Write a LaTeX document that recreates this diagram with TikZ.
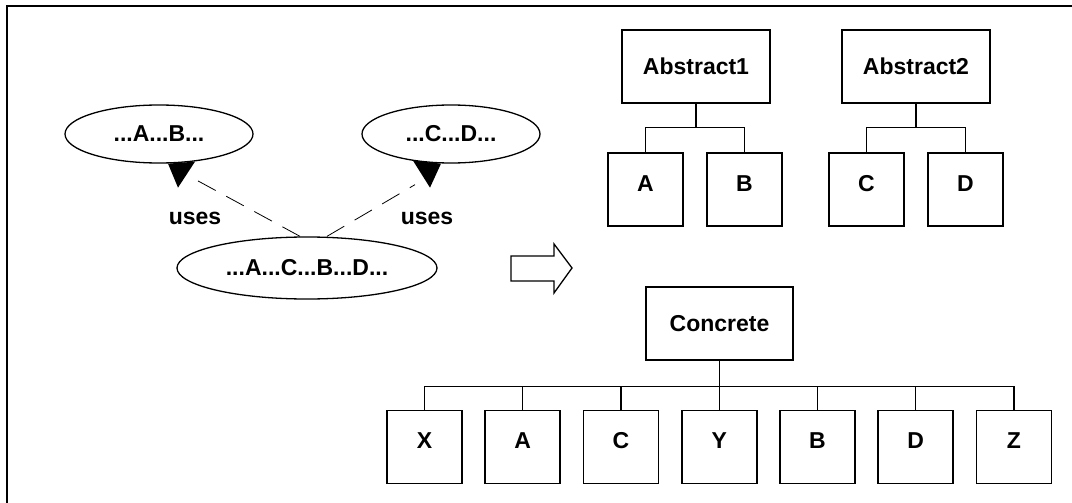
\documentclass[tikz,border=0pt]{standalone}
\usepackage{fontspec}
\setmainfont{Liberation Sans}
\usetikzlibrary{shapes.geometric,calc}

\begin{document}
\begin{tikzpicture}[x=1pt,y=-1pt,
  every node/.style={font=\bfseries\fontsize{23}{27}\selectfont},
  blob/.style={ellipse,draw,line width=1.3pt,inner sep=0pt},
  cls/.style={draw,line width=1.6pt,minimum width=148pt,minimum height=73pt},
  leaf/.style={draw,line width=1.6pt,minimum width=75pt,minimum height=73pt,text depth=12pt},
  wire/.style={line width=1.3pt},
  uses/.style={line width=0.8pt,dash pattern=on 20pt off 12pt}]
\clip (0,0) rectangle (1072,503);
\draw[line width=2pt] (7,6) rectangle (1090,520);
\node[blob,minimum width=188pt,minimum height=58pt] (ab) at (159,134) {...A...B...};
\node[blob,minimum width=178pt,minimum height=58pt] (cd) at (451,134) {...C...D...};
\node[blob,minimum width=260pt,minimum height=62pt] (mix) at (307,268) {...A...C...B...D...};
\fill ($(ab.south)+(9,0)$) -- ($(ab.south)+(36,-2)$) -- ($(ab.south)+(19,24)$) -- cycle;
\fill ($(cd.south)+(-38,-3)$) -- ($(cd.south)+(-10,0)$) -- ($(cd.south)+(-21,24)$) -- cycle;
\coordinate (abtip) at ($(ab.south)+(33,14)$);
\coordinate (cdtip) at ($(cd.south)+(-36,21)$);
\draw[uses] ($(mix.north)+(-7,0)$) -- (abtip);
\draw[uses] ($(mix.north)+(20,0)$) -- (cdtip);
\node (u1) at ($(ab.south)+(36,55)$) {uses};
\node (u2) at ($(cd.south)+(-24,55)$) {uses};
\draw[line width=1.3pt] (511,256) -- (554,256) -- (554,244) -- (572,268) -- (554,293) -- (554,281) -- (511,281) -- cycle;
\node[cls] (abs1) at (696,66.5) {Abstract1};
\node[cls] (abs2) at ($(abs1)+(220,0)$) {Abstract2};
\node[leaf] (a1) at ($(abs1.south)+(-50.5,85.5)$) {A};
\node[leaf] (b1) at ($(abs1.south)+(48.5,85.5)$) {B};
\node[leaf] (c2) at ($(abs2.south)+(-49.5,85.5)$) {C};
\node[leaf] (d2) at ($(abs2.south)+(49.5,85.5)$) {D};
\foreach \k in {a1,b1} \draw[wire] (abs1.south) -- ++(0,24) -| (\k.north);
\foreach \k in {c2,d2} \draw[wire] (abs2.south) -- ++(0,24) -| (\k.north);
\node[cls,minimum width=147pt] (con) at (719.5,323.5) {Concrete};
\foreach \t [count=\i from 0] in {X,A,C,Y,B,D,Z} {
  \node[leaf] (k\i) at ($(con.south)+(-295+98.25*\i,86)$) {\t};
  \draw[wire] (con.south) -- ++(0,26) -| (k\i.north);
}
\end{tikzpicture}
\end{document}
